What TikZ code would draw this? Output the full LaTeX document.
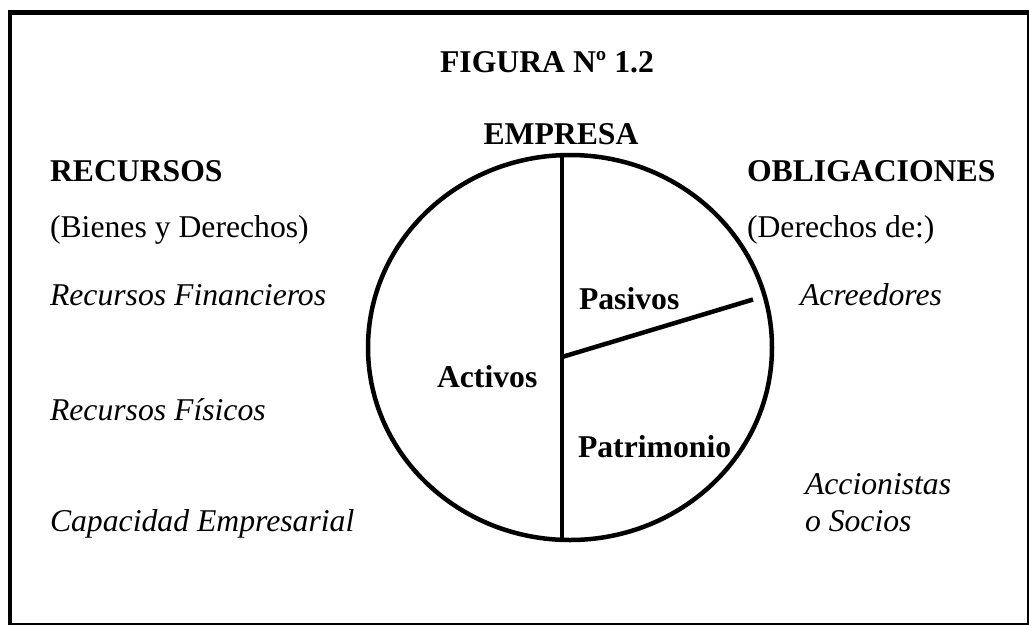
\documentclass[tikz,border=0pt]{standalone}
\usepackage{fontspec}
\setmainfont{Liberation Serif}
\begin{document}
\begin{tikzpicture}[x=1pt,y=-1pt,
  txt/.style={inner sep=0pt, outer sep=0pt, anchor=base west, font=\fontsize{31.7}{37}\selectfont},
  bld/.style={txt, font=\fontsize{31.7}{37}\selectfont\bfseries},
  itl/.style={txt, font=\fontsize{31.7}{37}\selectfont\itshape},
  ctr/.style={anchor=base},
  heavy/.style={line width=4.5pt}]
\useasboundingbox (0,0) rectangle (1029,625);
% frame
\draw[line width=4.5pt] (10,625) -- (10,12.5) -- (1029,12.5);
\draw[line width=1.5pt] (1028,12.5) -- (1028,625);
\draw[line width=1.5pt] (10,623.8) -- (1029,623.8);
% oval
\coordinate (oc) at (570,347.5);
\draw[heavy] (oc) ellipse [x radius=202, y radius=192.5];
\coordinate (vt) at (562,155.2);
\coordinate (vb) at (562,539.8);
\draw[heavy] (vt) -- (vb);
\coordinate (mid) at (562,357);
\coordinate (pend) at (753,299.5);
\draw[heavy] (mid) -- (pend);
% titles
\node[bld, ctr] (fig) at (547,72) {FIGURA Nº 1.2};
\node[bld, ctr] (emp) at (561,144) {EMPRESA};
\node[bld] (rec) at (50,181) {RECURSOS};
\node[txt] (bd) at (50,237) {(Bienes y Derechos)};
\node[bld] (obl) at (747,181) {OBLIGACIONES};
\node[txt] (dd) at (747,237) {(Derechos de:)};
% left list
\node[itl] (rf) at (50,305) {Recursos Financieros};
\node[itl] (rfi) at (50,420) {Recursos Físicos};
\node[itl] (ce) at (50,531) {Capacidad Empresarial};
% inside oval
\node[bld] (pas) at (579,309) {Pasivos};
\node[bld] (act) at (437,387) {Activos};
\node[bld] (pat) at (578,457) {Patrimonio};
% right list
\node[itl] (acr) at (800,305) {Acreedores};
\node[itl] (acc) at (805,494) {Accionistas};
\node[itl] (soc) at (805,531) {o Socios};
\end{tikzpicture}
\end{document}
